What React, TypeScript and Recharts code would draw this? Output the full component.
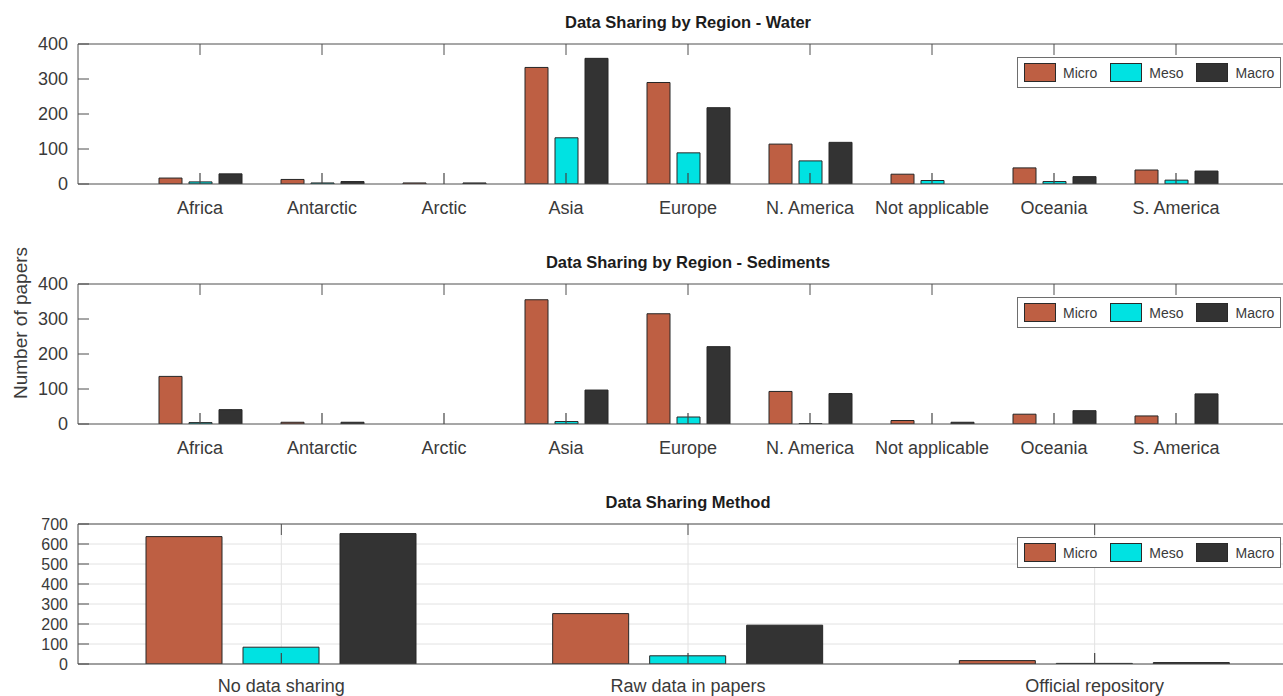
import { BarChart, Bar, XAxis, YAxis, CartesianGrid, ReferenceLine } from "recharts";

const FONT = '"Liberation Sans", Arial, Helvetica, sans-serif';
const AXIS_COLOR = "#4f4f4f";
const TEXT_COLOR = "#3a3a3a";
const TICK_LEN = 11;
const CHART_H = 230;
const MARGIN = { top: 43, right: 2, bottom: 6, left: 0 };
const TOP_AXIS_H = 1;
const BOTTOM_AXIS_H = 40;
const PLOT_H = CHART_H - MARGIN.top - MARGIN.bottom - TOP_AXIS_H - BOTTOM_AXIS_H;

// categories
const regions = [
  "Africa",
  "Antarctic",
  "Arctic",
  "Asia",
  "Europe",
  "N. America",
  "Not applicable",
  "Oceania",
  "S. America",
];
const methods = ["No data sharing", "Raw data in papers", "Official repository"];

// water
const waterMicro = [17, 13, 3, 333, 290, 114, 28, 46, 40];
const waterMeso = [6, 3, 0, 132, 89, 66, 10, 7, 11];
const waterMacro = [29, 7, 3, 359, 218, 119, 0, 21, 37];

// sediments
const sedMicro = [136, 5, 0, 355, 315, 93, 10, 28, 23];
const sedMeso = [4, 0, 0, 7, 20, 1, 0, 0, 0];
const sedMacro = [41, 5, 0, 97, 221, 87, 5, 38, 86];

// sharing method
const methodMicro = [637, 252, 17];
const methodMeso = [84, 41, 3];
const methodMacro = [652, 194, 7];

const regionTicks = [0, 100, 200, 300, 400];
const methodTicks = [0, 100, 200, 300, 400, 500, 600, 700];

const SERIES = [
  { key: "micro", name: "Micro", color: "#BE5F43" },
  { key: "meso", name: "Meso", color: "#00E2E2" },
  { key: "macro", name: "Macro", color: "#333333" },
];

const buildRows = (cats: string[], micro: number[], meso: number[], macro: number[]) =>
  cats.map((cat, i) => ({ cat, micro: micro[i], meso: meso[i], macro: macro[i] }));

// category label under the box
const BottomLabel = (props: any) => {
  const { x, y, payload, gap } = props;
  return (
    <text x={x} y={y + gap} textAnchor="middle" fill={TEXT_COLOR} fontSize={18} fontFamily={FONT}>
      {payload.value}
    </text>
  );
};

// matlab style tick on the top edge, pointing into the box
const TopTick = (props: any) => {
  const { x, y } = props;
  return <line x1={x} x2={x} y1={y} y2={y + TICK_LEN} stroke={AXIS_COLOR} />;
};

const LegendBox = () => (
  <div
    style={{
      position: "absolute",
      left: 1017,
      top: 57,
      width: 264,
      height: 31,
      boxSizing: "border-box",
      border: "1px solid #6e6e6e",
      background: "#fff",
      display: "flex",
      alignItems: "center",
      paddingLeft: 6,
      fontFamily: FONT,
      fontSize: 14,
      color: TEXT_COLOR,
    }}
  >
    {SERIES.map((s) => (
      <div key={s.key} style={{ display: "flex", alignItems: "center", marginRight: 13 }}>
        <span
          style={{
            display: "inline-block",
            width: 32,
            height: 19,
            boxSizing: "border-box",
            background: s.color,
            border: "1px solid #2a2a2a",
            marginRight: 7,
          }}
        />
        <span>{s.name}</span>
      </div>
    ))}
  </div>
);

interface PanelProps {
  top: number;
  title: string;
  cats: string[];
  data: Array<{ [key: string]: string | number }>;
  yMax: number;
  yTicks: number[];
  padX: number;
  barSize: number;
  barGap: number;
  grid?: boolean;
  yFont: number;
  labelGap: number;
}

const Panel = ({ top, title, cats, data, yMax, yTicks, padX, barSize, barGap, grid, yFont, labelGap }: PanelProps) => {
  // bottom tick marks, TICK_LEN px tall in data units
  const tickUnits = (yMax * TICK_LEN) / PLOT_H;
  return (
    <div style={{ position: "absolute", left: 0, top, width: 1300, height: 240 }}>
      <div
        style={{
          position: "absolute",
          left: 688,
          top: 14,
          transform: "translateX(-50%)",
          whiteSpace: "nowrap",
          fontFamily: FONT,
          fontWeight: "bold",
          fontSize: 16.5,
          lineHeight: "17px",
          color: "#1c1c1c",
        }}
      >
        {title}
      </div>
      <BarChart
        width={1300}
        height={CHART_H}
        data={data}
        margin={MARGIN}
        barSize={barSize}
        barGap={barGap}
      >
        {grid && <CartesianGrid stroke="#e2e2e2" />}
        {SERIES.map((s) => (
          <Bar
            key={s.key}
            dataKey={s.key}
            name={s.name}
            fill={s.color}
            stroke="#262626"
            strokeWidth={1}
            isAnimationActive={false}
          />
        ))}
        {cats.map((c) => (
          <ReferenceLine
            key={c}
            segment={[
              { x: c, y: 0 },
              { x: c, y: tickUnits },
            ]}
            stroke="#444444"
            strokeWidth={1.2}
            ifOverflow="visible"
          />
        ))}
        <XAxis
          dataKey="cat"
          height={BOTTOM_AXIS_H}
          interval={0}
          padding={{ left: padX, right: padX }}
          tickSize={0}
          tickMargin={0}
          tickLine={false}
          stroke={AXIS_COLOR}
          tick={(p: any) => <BottomLabel {...p} gap={labelGap} />}
        />
        <XAxis
          xAxisId="top"
          orientation="top"
          dataKey="cat"
          height={TOP_AXIS_H}
          interval={0}
          padding={{ left: padX, right: padX }}
          tickSize={0}
          tickMargin={0}
          tickLine={false}
          stroke={AXIS_COLOR}
          tick={(p: any) => <TopTick {...p} />}
        />
        <YAxis
          width={78}
          domain={[0, yMax]}
          ticks={yTicks}
          interval={0}
          allowDataOverflow
          tickSize={-TICK_LEN}
          tickMargin={21}
          stroke={AXIS_COLOR}
          tick={{ fill: TEXT_COLOR, fontSize: yFont, fontFamily: FONT }}
        />
      </BarChart>
      <LegendBox />
    </div>
  );
};

export default function App() {
  return (
    <div
      style={{
        position: "fixed",
        left: 0,
        top: 0,
        width: 1283,
        height: 696,
        overflow: "hidden",
        background: "#fff",
      }}
    >
      <Panel
        top={0}
        title="Data Sharing by Region - Water"
        cats={regions}
        data={buildRows(regions, waterMicro, waterMeso, waterMacro)}
        yMax={400}
        yTicks={regionTicks}
        padX={61}
        barSize={23}
        barGap={7}
        yFont={18}
        labelGap={30}
      />
      <Panel
        top={240}
        title="Data Sharing by Region - Sediments"
        cats={regions}
        data={buildRows(regions, sedMicro, sedMeso, sedMacro)}
        yMax={400}
        yTicks={regionTicks}
        padX={61}
        barSize={23}
        barGap={7}
        yFont={18}
        labelGap={30}
      />
      <Panel
        top={480}
        title="Data Sharing Method"
        cats={methods}
        data={buildRows(methods, methodMicro, methodMeso, methodMacro)}
        yMax={700}
        yTicks={methodTicks}
        padX={0}
        barSize={76}
        barGap={21}
        grid
        yFont={16}
        labelGap={28}
      />
      <div
        style={{
          position: "absolute",
          left: 20,
          top: 323,
          transform: "translate(-50%, -50%) rotate(-90deg)",
          whiteSpace: "nowrap",
          fontFamily: FONT,
          fontSize: 19,
          lineHeight: "19px",
          color: TEXT_COLOR,
        }}
      >
        Number of papers
      </div>
    </div>
  );
}
